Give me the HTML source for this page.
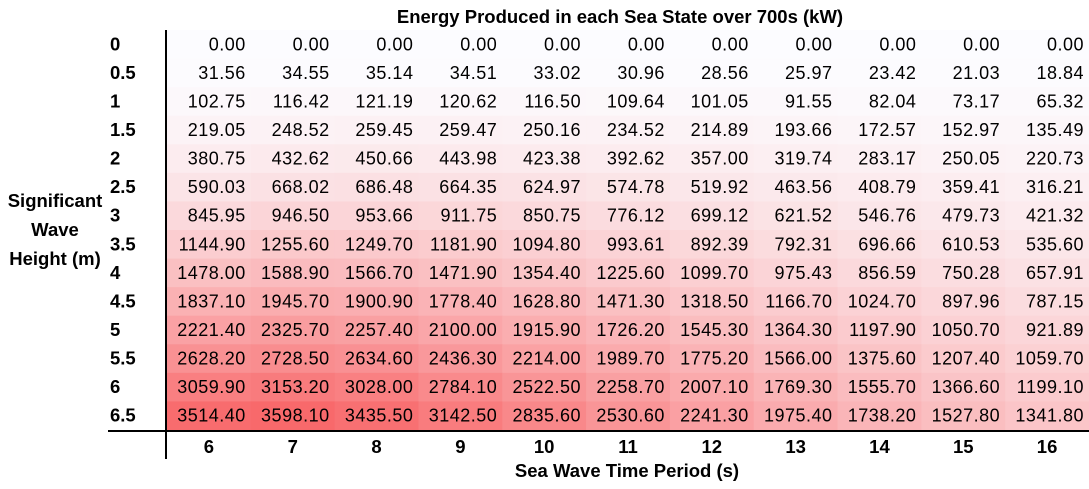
<!DOCTYPE html>
<html><head><meta charset="utf-8"><style>
body{margin:0;background:#fff;}
svg{display:block;font-family:"Liberation Sans",Arial,sans-serif;}
</style></head><body>
<svg id="chart" width="1089" height="489" viewBox="0 0 1089 489"></svg>
<script>
const periods=[6,7,8,9,10,11,12,13,14,15,16];
const heights=["0","0.5","1","1.5","2","2.5","3","3.5","4","4.5","5","5.5","6","6.5"];
const r0=[0,0,0,0,0,0,0,0,0,0,0];
const r05=[31.56,34.55,35.14,34.51,33.02,30.96,28.56,25.97,23.42,21.03,18.84];
const r1=[102.75,116.42,121.19,120.62,116.50,109.64,101.05,91.55,82.04,73.17,65.32];
const r15=[219.05,248.52,259.45,259.47,250.16,234.52,214.89,193.66,172.57,152.97,135.49];
const r2=[380.75,432.62,450.66,443.98,423.38,392.62,357.00,319.74,283.17,250.05,220.73];
const r25=[590.03,668.02,686.48,664.35,624.97,574.78,519.92,463.56,408.79,359.41,316.21];
const r3=[845.95,946.50,953.66,911.75,850.75,776.12,699.12,621.52,546.76,479.73,421.32];
const r35=[1144.90,1255.60,1249.70,1181.90,1094.80,993.61,892.39,792.31,696.66,610.53,535.60];
const r4=[1478.00,1588.90,1566.70,1471.90,1354.40,1225.60,1099.70,975.43,856.59,750.28,657.91];
const r45=[1837.10,1945.70,1900.90,1778.40,1628.80,1471.30,1318.50,1166.70,1024.70,897.96,787.15];
const r5=[2221.40,2325.70,2257.40,2100.00,1915.90,1726.20,1545.30,1364.30,1197.90,1050.70,921.89];
const r55=[2628.20,2728.50,2634.60,2436.30,2214.00,1989.70,1775.20,1566.00,1375.60,1207.40,1059.70];
const r6=[3059.90,3153.20,3028.00,2784.10,2522.50,2258.70,2007.10,1769.30,1555.70,1366.60,1199.10];
const r65=[3514.40,3598.10,3435.50,3142.50,2835.60,2530.60,2241.30,1975.40,1738.20,1527.80,1341.80];
const values=[r0,r05,r1,r15,r2,r25,r3,r35,r4,r45,r5,r55,r6,r65];

const svg=document.getElementById('chart');
const NS='http://www.w3.org/2000/svg';
const X0=167,X1=1089,Y0=30,Y1=430;
const cw=(X1-X0)/periods.length, rh=(Y1-Y0)/heights.length;
const xAt=i=>X0+i*cw, yAt=j=>Y0+j*rh;
let vmax=-Infinity,vmin=Infinity;
values.forEach(r=>r.forEach(v=>{vmax=Math.max(vmax,v);vmin=Math.min(vmin,v);}));
function color(v){const t=(v-vmin)/(vmax-vmin||1);
 const a=[252,252,255],b=[248,105,107];
 return 'rgb('+a.map((c,k)=>Math.round(c+(b[k]-c)*t)).join(',')+')';}
function el(tag,attrs,txt){const e=document.createElementNS(NS,tag);for(const k in attrs)e.setAttribute(k,attrs[k]);if(txt!==undefined)e.textContent=txt;svg.appendChild(e);return e;}

values.forEach((row,j)=>{row.forEach((v,i)=>{
 const r=el('rect',{x:xAt(i),y:yAt(j),width:cw+0.5,height:rh+0.5,fill:color(v)});
 
 
 const t=el('text',{x:xAt(i)+cw-5,y:yAt(j)+rh/2+6,'text-anchor':'end','font-size':18,fill:'#000','letter-spacing':'0.5'},v.toFixed(2));
 
 
});});
heights.forEach((h,j)=>{
 const t=el('text',{x:110,y:yAt(j)+rh/2+6,'font-size':18.5,'font-weight':'bold'},h);
 
 
});
periods.forEach((p,i)=>{
 const t=el('text',{x:xAt(i)+cw/2,y:453,'text-anchor':'middle','font-size':18.5,'font-weight':'bold'},p);
 
 
});
const vl=el('line',{x1:166,y1:30,x2:166,y2:459,stroke:'#000','stroke-width':2});


const hl=el('line',{x1:108,y1:431,x2:1089,y2:431,stroke:'#000','stroke-width':2});


const ti=el('text',{x:620,y:23,'text-anchor':'middle','font-size':18.5,'font-weight':'bold'},'Energy Produced in each Sea State over 700s (kW)');


const xt=el('text',{x:627,y:477,'text-anchor':'middle','font-size':18.5,'font-weight':'bold'},'Sea Wave Time Period (s)');


['Significant','Wave','Height (m)'].forEach((s,k)=>{
 const t=el('text',{x:55,y:207+k*29,'text-anchor':'middle','font-size':18.5,'font-weight':'bold'},s);
 
 
});
</script>
</body></html>
